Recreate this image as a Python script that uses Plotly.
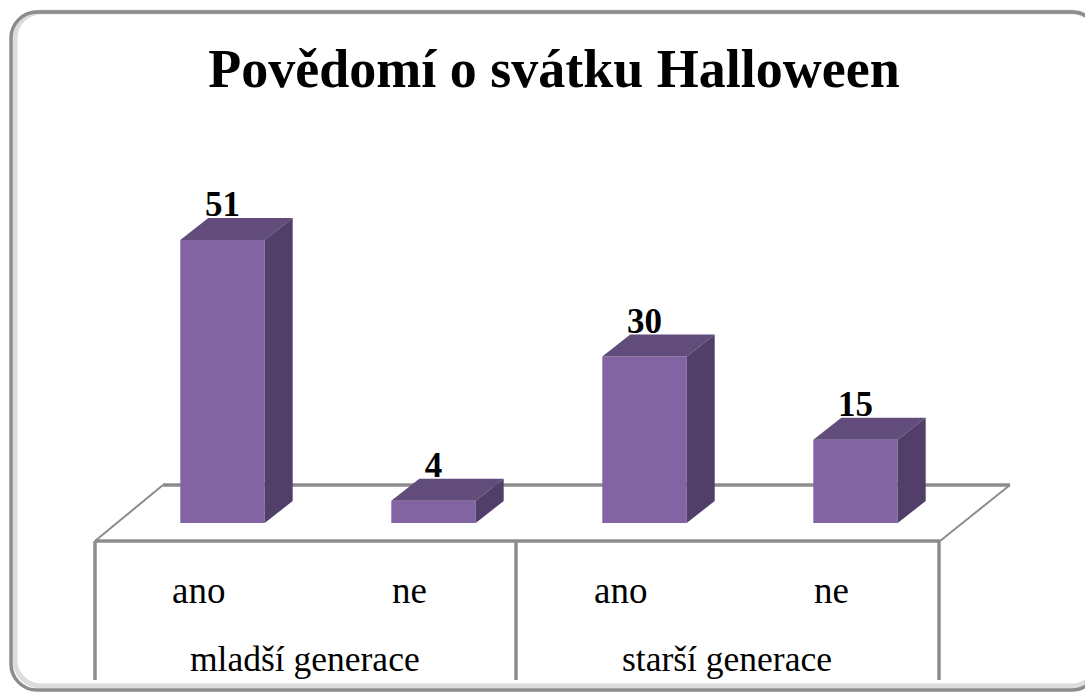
import plotly.graph_objects as go

W, H = 1085, 695

categories = ["ano", "ne", "ano", "ne"]
groups = ["mladší generace", "starší generace"]
values = [51, 4, 30, 15]
title = "Povědomí o svátku Halloween"

FRONT = "#8264a2"
TOP = "#614c7c"
SIDE = "#523f69"
LINE = "#8c8c8c"

# bars sit at x = 0,1,2,3 and the axes fill the whole page
x_step = 211
y_step = 5.55
x_range = [-222.5 / x_step, (W - 222.5) / x_step]
y_range = [(523 - H) / y_step, 523 / y_step]
bar_w = 0.4
dx = 28 / x_step
dy = 22 / y_step
label_drop = 7 / y_step


def px(x):
    return x / W


def py(y):
    return 1 - y / H


def seg(x0, y0, x1, y1, width=3, color=LINE):
    return dict(type="line", xref="paper", yref="paper", x0=px(x0), x1=px(x1),
                y0=py(y0), y1=py(y1), layer="below", line=dict(color=color, width=width))


def frame(l, t, r, b, rad, color, width):
    k = rad * 0.45
    p = (
        f"M {px(l)} {py(t + rad)} C {px(l)} {py(t + k)} {px(l + k)} {py(t)} {px(l + rad)} {py(t)} "
        f"L {px(r - rad)} {py(t)} C {px(r - k)} {py(t)} {px(r)} {py(t + k)} {px(r)} {py(t + rad)} "
        f"L {px(r)} {py(b - rad)} C {px(r)} {py(b - k)} {px(r - k)} {py(b)} {px(r - rad)} {py(b)} "
        f"L {px(l + rad)} {py(b)} C {px(l + k)} {py(b)} {px(l)} {py(b - k)} {px(l)} {py(b - rad)} Z"
    )
    return dict(type="path", xref="paper", yref="paper", path=p, layer="below",
                line=dict(color=color, width=width))


fig = go.Figure()

fig.add_trace(go.Bar(
    x=list(range(len(values))),
    y=values,
    width=bar_w,
    marker=dict(color=FRONT, line=dict(width=0)),
    hoverinfo="skip",
))

# value labels go under the top faces, the reference clips them a little
fig.add_trace(go.Scatter(
    x=list(range(len(values))),
    y=[v + dy - label_drop for v in values],
    mode="text",
    text=[str(v) for v in values],
    textposition="top center",
    textfont=dict(family="Liberation Serif", size=35, color="black", weight="bold"),
    hoverinfo="skip",
))

for i, v in enumerate(values):
    l = i - bar_w / 2
    r = i + bar_w / 2
    fig.add_trace(go.Scatter(
        x=[l, r, r + dx, l + dx, l],
        y=[v, v, v + dy, v + dy, v],
        mode="lines", fill="toself", fillcolor=TOP, line=dict(width=0),
        hoverinfo="skip",
    ))
    fig.add_trace(go.Scatter(
        x=[r, r + dx, r + dx, r, r],
        y=[0, dy, v + dy, v, 0],
        mode="lines", fill="toself", fillcolor=SIDE, line=dict(width=0),
        hoverinfo="skip",
    ))

shapes = [
    frame(15, 12, 1098, 686, 26, "#dcdcdc", 5),
    frame(11, 12, 1098, 690, 26, LINE, 3.5),
    seg(95, 541, 940, 541, width=3.5),
    seg(95, 541, 163, 485, width=2),
    seg(163, 485, 1010, 485, width=3.5),
    seg(1010, 485, 940, 541, width=2),
    seg(95, 541, 95, 680, width=3.5),
    seg(516, 541, 516, 680, width=3.5),
    seg(939, 541, 939, 680, width=3.5),
]

annotations = []
for i, c in enumerate(categories):
    annotations.append(dict(
        x=i - 24 / x_step, y=(523 - 590) / y_step, text=c, showarrow=False,
        font=dict(family="Liberation Serif", size=37, color="black"),
    ))
for j, g in enumerate(groups):
    annotations.append(dict(
        x=0.5 + 2 * j - 23 / x_step, y=(523 - 659) / y_step, text=g, showarrow=False,
        font=dict(family="Liberation Serif", size=35.5, color="black"),
    ))

fig.update_layout(
    width=W,
    height=H,
    margin=dict(l=0, r=0, t=0, b=0),
    paper_bgcolor="white",
    plot_bgcolor="rgba(0,0,0,0)",
    showlegend=False,
    title=dict(
        text=title,
        x=554 / W, y=1 - 68 / H, xanchor="center", yanchor="middle",
        font=dict(family="Liberation Serif", size=54, color="black", weight="bold"),
    ),
    xaxis=dict(visible=False, range=x_range, fixedrange=True),
    yaxis=dict(visible=False, range=y_range, fixedrange=True),
    shapes=shapes,
    annotations=annotations,
)

# the page has a default body margin that would push the figure off by 8px
fig.write_html(
    "out.html",
    post_script="document.body.style.margin='0';document.body.style.overflow='hidden';",
    config={"displayModeBar": False},
)
